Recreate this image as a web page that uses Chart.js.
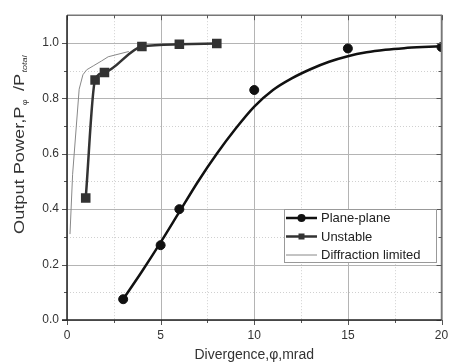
<!DOCTYPE html>
<html>
<head>
<meta charset="utf-8">
<script src="https://cdn.jsdelivr.net/npm/chart.js@4.4.1/dist/chart.umd.min.js"></script>
<style>
  html, body { margin: 0; padding: 0; background: #fff; }
  #wrap { width: 449px; height: 364px; }
</style>
</head>
<body>
<div id="wrap"><canvas id="myChart"></canvas></div>
<script>
// measured points
const planeX = [3, 5, 6, 10, 15, 20];
const planeY = [0.075, 0.27, 0.40, 0.83, 0.98, 0.985];

// fitted curve through plane-plane
const fitX = [3, 4, 5, 6, 7, 8, 9, 10, 11, 12, 13, 14, 15, 16, 17, 18, 19, 20];
const fitY = [0.075, 0.175, 0.28, 0.39, 0.50, 0.60, 0.69, 0.77, 0.83, 0.872, 0.905, 0.932, 0.952, 0.966, 0.975, 0.981, 0.985, 0.988];

const unstableX = [1, 1.5, 2, 4, 6, 8];
const unstableY = [0.44, 0.866, 0.893, 0.987, 0.995, 0.998];

const diffX = [0.16, 0.30, 0.65, 0.85, 1.05, 1.4, 1.85, 2.2, 3.3];
const diffY = [0.31, 0.526, 0.833, 0.885, 0.903, 0.917, 0.935, 0.95, 0.969];

const xTicks = [0, 5, 10, 15, 20];
const xMinor = [2.5, 7.5, 12.5, 17.5];
const yTicks = [0, 0.2, 0.4, 0.6, 0.8, 1.0];
const yMinor = [0.1, 0.3, 0.5, 0.7, 0.9];

const seriesNames = ['Plane-plane', 'Unstable', 'Diffraction limited'];

const FONT = '"Liberation Sans", Arial, sans-serif';

function toPts(xs, ys) {
  return xs.map((x, i) => ({ x: x, y: ys[i] }));
}

// grid, frame and tick marks
const framePlugin = {
  id: 'frame',
  beforeDatasetsDraw(chart) {
    const ctx = chart.ctx;
    const a = chart.chartArea;
    const xs = chart.scales.x, ys = chart.scales.y;
    ctx.save();
    // minor dotted grid
    ctx.strokeStyle = '#d0d0d0';
    ctx.lineWidth = 1;
    ctx.setLineDash([1, 2]);
    xMinor.forEach(v => {
      const px = Math.round(xs.getPixelForValue(v)) + 0.5;
      ctx.beginPath(); ctx.moveTo(px, a.top); ctx.lineTo(px, a.bottom); ctx.stroke();
    });
    yMinor.forEach(v => {
      const py = Math.round(ys.getPixelForValue(v)) + 0.5;
      ctx.beginPath(); ctx.moveTo(a.left, py); ctx.lineTo(a.right, py); ctx.stroke();
    });
    // major grid
    ctx.setLineDash([]);
    ctx.strokeStyle = '#b4b4b4';
    xTicks.forEach(v => {
      const px = Math.round(xs.getPixelForValue(v)) + 0.5;
      ctx.beginPath(); ctx.moveTo(px, a.top); ctx.lineTo(px, a.bottom); ctx.stroke();
    });
    yTicks.forEach(v => {
      const py = Math.round(ys.getPixelForValue(v)) + 0.5;
      ctx.beginPath(); ctx.moveTo(a.left, py); ctx.lineTo(a.right, py); ctx.stroke();
    });
    ctx.restore();
  },
  afterDatasetsDraw(chart) {
    const ctx = chart.ctx;
    const a = chart.chartArea;
    const xs = chart.scales.x, ys = chart.scales.y;
    ctx.save();
    // top / right frame
    ctx.strokeStyle = '#777';
    ctx.lineWidth = 1.5;
    ctx.beginPath();
    ctx.moveTo(a.left, a.top); ctx.lineTo(a.right, a.top); ctx.lineTo(a.right, a.bottom);
    ctx.stroke();
    // ticks
    ctx.lineWidth = 1;
    ctx.strokeStyle = '#555';
    xTicks.forEach(v => {
      const px = Math.round(xs.getPixelForValue(v)) + 0.5;
      ctx.beginPath(); ctx.moveTo(px, a.bottom); ctx.lineTo(px, a.bottom + 5); ctx.stroke();
      ctx.beginPath(); ctx.moveTo(px, a.top); ctx.lineTo(px, a.top + 5); ctx.stroke();
    });
    xMinor.forEach(v => {
      const px = Math.round(xs.getPixelForValue(v)) + 0.5;
      ctx.beginPath(); ctx.moveTo(px, a.bottom); ctx.lineTo(px, a.bottom + 3); ctx.stroke();
      ctx.beginPath(); ctx.moveTo(px, a.top); ctx.lineTo(px, a.top + 3); ctx.stroke();
    });
    yTicks.forEach(v => {
      const py = Math.round(ys.getPixelForValue(v)) + 0.5;
      ctx.beginPath(); ctx.moveTo(a.left - 5, py); ctx.lineTo(a.left, py); ctx.stroke();
      ctx.beginPath(); ctx.moveTo(a.right - 5, py); ctx.lineTo(a.right, py); ctx.stroke();
    });
    yMinor.forEach(v => {
      const py = Math.round(ys.getPixelForValue(v)) + 0.5;
      ctx.beginPath(); ctx.moveTo(a.left - 3, py); ctx.lineTo(a.left, py); ctx.stroke();
      ctx.beginPath(); ctx.moveTo(a.right - 3, py); ctx.lineTo(a.right, py); ctx.stroke();
    });
    // left and bottom axis lines
    ctx.strokeStyle = '#222';
    ctx.lineWidth = 1.5;
    ctx.beginPath();
    ctx.moveTo(a.left, a.top); ctx.lineTo(a.left, a.bottom + 0.5);
    ctx.moveTo(a.left - 5, a.bottom); ctx.lineTo(a.right, a.bottom);
    ctx.stroke();
    ctx.restore();
  },
  afterDraw(chart) {
    const ctx = chart.ctx;
    ctx.save();
    // y axis title with subscripts (stretched along the text like the original)
    ctx.translate(20, 234);
    ctx.rotate(-Math.PI / 2);
    ctx.scale(1.3, 1);
    ctx.fillStyle = '#333';
    ctx.textBaseline = 'middle';
    ctx.textAlign = 'left';
    let x = 0;
    ctx.font = '14px ' + FONT;
    ctx.fillText('Output Power,P', x, 0);
    x += ctx.measureText('Output Power,P').width;
    ctx.font = '7px ' + FONT;
    ctx.fillText('\u03c6', x + 1, 5);
    x += 8;
    ctx.font = '14px ' + FONT;
    ctx.fillText(' /P', x, 0);
    x += ctx.measureText(' /P').width;
    ctx.font = 'italic 7px ' + FONT;
    ctx.fillText('total', x + 1, 5);
    ctx.restore();

    // legend box
    ctx.save();
    const bx = 284.5, by = 209.5, bw = 152, bh = 53;
    ctx.fillStyle = '#fff';
    ctx.fillRect(bx, by, bw, bh);
    ctx.strokeStyle = '#999';
    ctx.lineWidth = 1;
    ctx.strokeRect(bx, by, bw, bh);
    const rows = [218, 236.5, 255];
    ctx.font = '13px ' + FONT;
    ctx.textBaseline = 'middle';
    rows.forEach((ry, i) => {
      ctx.beginPath();
      ctx.moveTo(286, ry); ctx.lineTo(317, ry);
      if (i === 0) { ctx.strokeStyle = '#111'; ctx.lineWidth = 2.5; }
      else if (i === 1) { ctx.strokeStyle = '#333'; ctx.lineWidth = 2.5; }
      else { ctx.strokeStyle = '#888'; ctx.lineWidth = 1; }
      ctx.stroke();
      if (i === 0) {
        ctx.fillStyle = '#111';
        ctx.beginPath(); ctx.arc(301.5, ry, 4, 0, Math.PI * 2); ctx.fill();
      } else if (i === 1) {
        ctx.fillStyle = '#333';
        ctx.fillRect(298.5, ry - 3, 6, 6);
      }
      ctx.fillStyle = '#222';
      ctx.fillText(seriesNames[i], 321, ry + 0.5);
    });
    ctx.restore();
  }
};

const myChart = document.getElementById('myChart');

let lineChart = new Chart(myChart, {
  type: 'scatter',
  data: {
    datasets: [
      {
        label: 'fit',
        data: toPts(fitX, fitY),
        showLine: true,
        borderColor: '#111',
        borderWidth: 2.5,
        pointRadius: 0,
        cubicInterpolationMode: 'monotone'
      },
      {
        label: seriesNames[0],
        data: toPts(planeX, planeY),
        showLine: false,
        backgroundColor: '#111',
        borderColor: '#111',
        pointRadius: 4.5,
        pointHoverRadius: 4.5
      },
      {
        label: seriesNames[1],
        data: toPts(unstableX, unstableY),
        showLine: true,
        borderColor: '#333',
        borderWidth: 2.5,
        backgroundColor: '#333',
        pointStyle: 'rect',
        pointRadius: 5,
        pointHoverRadius: 5,
        cubicInterpolationMode: 'monotone'
      },
      {
        label: seriesNames[2],
        data: toPts(diffX, diffY),
        showLine: true,
        borderColor: '#888',
        borderWidth: 1,
        pointRadius: 0,
        tension: 0
      }
    ]
  },
  options: {
    responsive: true,
    maintainAspectRatio: false,
    animation: false,
    events: [],
    layout: { padding: { top: 15, right: 5, left: 0, bottom: 0 } },
    plugins: { legend: { display: false }, tooltip: { enabled: false } },
    scales: {
      x: {
        type: 'linear',
        min: 0,
        max: 20,
        afterBuildTicks: s => { s.ticks = xTicks.map(v => ({ value: v })); },
        afterFit: s => { s.height = 44; s.paddingLeft = 0; s.paddingRight = 0; },
        grid: { display: false, drawTicks: false },
        border: { display: false },
        ticks: {
          padding: 8,
          color: '#333',
          font: { family: FONT, size: 12 },
          callback: v => String(v)
        },
        title: {
          display: true,
          text: 'Divergence,\u03c6,mrad',
          color: '#333',
          font: { family: FONT, size: 14 },
          padding: { top: 6, bottom: 0 }
        }
      },
      y: {
        type: 'linear',
        min: 0,
        max: 1.1,
        afterBuildTicks: s => { s.ticks = yTicks.map(v => ({ value: v })); },
        afterFit: s => { s.width = 67; },
        grid: { display: false, drawTicks: false },
        border: { display: false },
        ticks: {
          padding: 8,
          color: '#333',
          font: { family: FONT, size: 12 },
          callback: v => v.toFixed(1)
        }
      }
    }
  },
  plugins: [framePlugin]
});
</script>
</body>
</html>
